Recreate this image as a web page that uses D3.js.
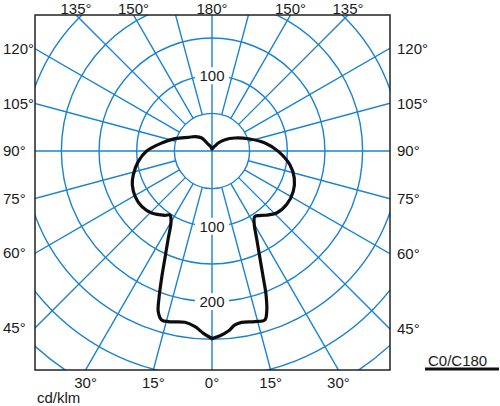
<!DOCTYPE html>
<html><head><meta charset="utf-8">
<script src="https://cdn.jsdelivr.net/npm/d3@7"></script>
<style>
body{margin:0;background:#fff}
svg{display:block}
text{font-family:"Liberation Sans",Arial,sans-serif;font-size:15px;fill:#1a1a1a}
</style>
</head><body>
<svg id="chart" width="500" height="406"></svg>
<script>
// ---- data (gamma angle in degrees, intensity in cd/klm) ----
const c0Gamma   = [0, 2.5, 5.2, 7.5, 9.8, 14.1, 17.4, 18.8, 20.6, 22, 24.1, 27.1, 29.8, 33, 36, 39.5, 46.2, 54.3, 63.6, 71.8, 80, 89.7, 98.6, 108.7, 119.5, 131, 141.8, 150, 160, 170, 180];
const c0Values  = [249, 245.5, 240, 233, 231, 233.7, 235, 225.5, 204, 182, 156, 130, 113, 104, 106, 110.6, 119, 122, 120.5, 115, 105, 88, 71.2, 50.9, 35, 22.9, 13.5, 7.4, 4.9, 3.7, 3];
const c180Gamma  = [0, 2.7, 5.5, 9, 14.4, 16.6, 18.5, 19.8, 21.6, 23.7, 26.6, 30.1, 33.3, 36.2, 44.2, 51.8, 59.5, 67.1, 73.2, 82, 90, 99, 108.4, 120, 131, 141.6, 150, 165, 180];
const c180Values = [249, 242.4, 234.4, 230.3, 234, 234.1, 225, 207.9, 181.8, 155.5, 129.7, 108.5, 101.7, 105.8, 114.9, 118.8, 118.6, 114.9, 109.2, 98.8, 86.7, 67.6, 51.8, 36.4, 29, 22, 10.4, 5.6, 3];

const ringValues = [50, 100, 150, 200, 250, 300, 350];
const spokeAngles = [0,15,30,45,60,75,90,105,120,135,150,165,180,195,210,225,240,255,270,285,300,315,330,345];
const ringLabelValues = [100, 100, 200];
const ringLabelSides  = ["up", "down", "down"];
const sideTickLabels   = [120, 105, 90, 75, 60, 45];
const topTickLabels    = [135, 150, 180, 150, 135];
const topTickSides     = [-1, -1, 0, 1, 1];
const bottomTickLabels = [30, 15, 0, 15, 30];
const bottomTickSides  = [-1, -1, 0, 1, 1];
const unitLabel = "cd/klm";
const legendLabel = "C0/C180";

// ---- layout ----
const cx = 212, cy = 151;
const box = {x0: 35, x1: 390, y0: 15, y1: 370};
const gridColor = "#1a82d2";
const r = d3.scaleLinear().domain([0, 100]).range([0, 75.3]);
const rad = d => d * Math.PI / 180;

const svg = d3.select("#chart");
svg.append("defs").append("clipPath").attr("id", "clip")
  .append("rect").attr("x", box.x0).attr("y", box.y0)
  .attr("width", box.x1 - box.x0).attr("height", box.y1 - box.y0);

const grid = svg.append("g").attr("clip-path", "url(#clip)");

// rings
grid.selectAll("circle.ring").data(ringValues).join("circle")
  .attr("class", "ring").attr("cx", cx).attr("cy", cy)
  .attr("r", d => r(d)).attr("fill", "none")
  .attr("stroke", gridColor).attr("stroke-width", 1.4);

// spokes (gamma from nadir; screen: x = R sin g, y = R cos g)
grid.selectAll("line.spoke").data(spokeAngles).join("line")
  .attr("class", "spoke")
  .attr("x1", d => cx + r(d % 90 === 0 ? 0 : 50) * Math.sin(rad(d)))
  .attr("y1", d => cy + r(d % 90 === 0 ? 0 : 50) * Math.cos(rad(d)))
  .attr("x2", d => cx + r(600) * Math.sin(rad(d)))
  .attr("y2", d => cy + r(600) * Math.cos(rad(d)))
  .attr("stroke", gridColor).attr("stroke-width", 1.4);

// ring labels with white background
const rl = svg.append("g").selectAll("g").data(ringLabelValues.map((v, i) => ({v, s: ringLabelSides[i]}))).join("g")
  .attr("transform", d => `translate(${cx},${cy + (d.s === "up" ? -1 : 1) * r(d.v)})`);
rl.append("rect").attr("x", -17).attr("y", -8.5).attr("width", 34).attr("height", 17).attr("fill", "#fff");
rl.append("text").attr("text-anchor", "middle").attr("y", 5.3).text(d => d.v);

// frame
svg.append("rect").attr("x", box.x0).attr("y", box.y0)
  .attr("width", box.x1 - box.x0).attr("height", box.y1 - box.y0)
  .attr("fill", "none").attr("stroke", "#222").attr("stroke-width", 1.5);

// side labels (where spoke hits the left/right frame)
sideTickLabels.forEach(g => {
  const yy = cy + (box.x1 - cx) / Math.tan(rad(g));
  const yl = cy + (cx - box.x0) / Math.tan(rad(g));
  svg.append("text").attr("x", 3).attr("y", yl + 5.3).text(g + "°");
  svg.append("text").attr("x", 397).attr("y", yy + 5.3).text(g + "°");
});
// top labels
topTickLabels.forEach((g, i) => {
  const dy = cy - box.y0;
  const x = cx + topTickSides[i] * dy * Math.tan(rad(180 - g));
  svg.append("text").attr("x", x).attr("y", 13.5).attr("text-anchor", "middle").text(g + "°");
});
// bottom labels
bottomTickLabels.forEach((g, i) => {
  const dy = box.y1 - cy;
  const x = cx + bottomTickSides[i] * dy * Math.tan(rad(g));
  svg.append("text").attr("x", x).attr("y", 388).attr("text-anchor", "middle").text(g + "°");
});

svg.append("text").attr("x", 37).attr("y", 403).text(unitLabel);

// legend
svg.append("text").attr("x", 428).attr("y", 366).text(legendLabel);
svg.append("line").attr("x1", 425).attr("x2", 499).attr("y1", 369).attr("y2", 369)
  .attr("stroke", "#111").attr("stroke-width", 3);

// intensity curves
const c0 = c0Gamma.map((g, i) => ({g, v: c0Values[i]}));
const c180 = c180Gamma.map((g, i) => ({g, v: c180Values[i]}));
const lineC0 = d3.lineRadial().angle(d => Math.PI - rad(d.g)).radius(d => r(d.v)).curve(d3.curveCatmullRom.alpha(0.5));
const lineC180 = d3.lineRadial().angle(d => Math.PI + rad(d.g)).radius(d => r(d.v)).curve(d3.curveCatmullRom.alpha(0.5));
const curves = svg.append("g").attr("transform", `translate(${cx},${cy})`);
[[c0, lineC0], [c180, lineC180]].forEach(([data, gen]) => {
  curves.append("path").attr("d", gen(data)).attr("fill", "none")
    .attr("stroke", "#0d0d0d").attr("stroke-width", 3.2)
    .attr("stroke-linejoin", "round").attr("stroke-linecap", "round");
});
</script>
</body></html>
